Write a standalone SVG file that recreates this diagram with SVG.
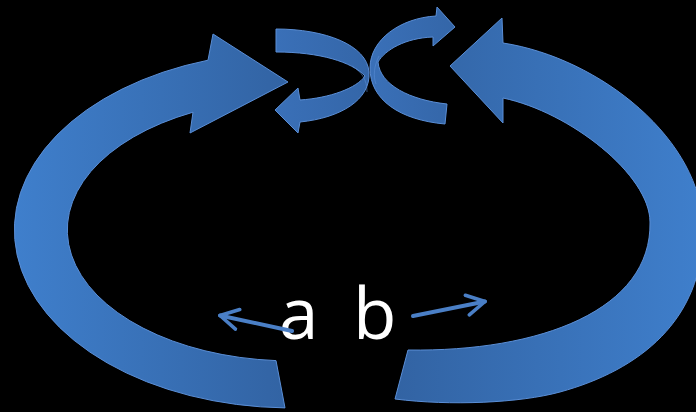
<svg xmlns="http://www.w3.org/2000/svg" width="696" height="412" viewBox="0 0 696 412">
  <defs>
    <linearGradient id="gL" x1="0" y1="0" x2="1" y2="0">
      <stop offset="0" stop-color="#3f7fcc"/>
      <stop offset="1" stop-color="#3263a3"/>
    </linearGradient>
    <linearGradient id="gR" x1="0" y1="0" x2="1" y2="0">
      <stop offset="0" stop-color="#3263a3"/>
      <stop offset="1" stop-color="#3f7fcc"/>
    </linearGradient>
    <linearGradient id="gC" x1="0" y1="0" x2="1" y2="0">
      <stop offset="0" stop-color="#3a70b8"/>
      <stop offset="1" stop-color="#3466a8"/>
    </linearGradient>
    <marker id="ah" viewBox="0 0 12 12" refX="10" refY="6" markerWidth="6" markerHeight="6" markerUnits="strokeWidth" orient="auto">
      <path d="M1,1 L10,6 L1,11" fill="none" stroke="#4a7fc6" stroke-width="1.8" stroke-linecap="round" stroke-linejoin="round"/>
    </marker>
    <style>
      .big { stroke: #5a8ed6; stroke-width: 1; stroke-linejoin: miter; }
      .swap { fill: url(#gC); stroke: #5a8ed6; stroke-width: 1; }
      .fold { fill: none; stroke: #5a8ed6; stroke-width: 0.8; opacity: 0.7; }
      .lbl { font-family: "Open Sans", "Noto Sans", sans-serif; font-size: 71px; fill: #ffffff; }
      .con { fill: none; stroke: #4a7fc6; stroke-width: 4; stroke-linecap: round; }
    </style>
  </defs>
  <rect x="0" y="0" width="696" height="412" fill="#000000"/>

  <g id="arrow-left">
    <path class="big" fill="url(#gL)" d="M 285,407.9 A 277 178 0 0 1 208,60.2 L 213,34 L 288,82 L 190,133 L 193,112.2 A 224 131 0 0 0 276,360.6 Z"/>
  </g>

  <g id="arrow-right">
    <path class="big" fill="url(#gR)" d="M 503,43 C 600,58 703,140 703,230 C 703,320 640,370 560,392 C 520,403 450,406 395,399 L 408,350 C 540,352 652,310 650,222 C 650,175 570,112 503,98 L 503,123 L 450,66 L 502,18 Z"/>
  </g>

  <g id="swap-left">
    <path class="swap" d="M 276,29 C 325,29 367,45 369,72 C 371,100 340,118 300,122 L 298,133 L 275,110 L 298,88 L 300,100 C 330,98 357,88 365,76 C 352,62 320,52 276,52 Z"/>
    <path class="fold" d="M 352,66 C 362,72 367,80 367,92"/>
  </g>

  <g id="swap-right">
    <path class="swap" d="M 436,16 L 437,7 L 455,27 L 433,46 L 433,37 C 405,38 385,50 378,62 C 380,85 410,100 447,104 L 445,124 C 400,120 370,100 370,68 C 370,40 400,18 436,16 Z"/>
    <path class="fold" d="M 379,56 C 374,66 373,76 376,84"/>
  </g>

  <g id="label-a">
    <text class="lbl" x="279" y="339">a</text>
  </g>
  <g id="label-b">
    <text class="lbl" x="353" y="339">b</text>
  </g>

  <g id="connectors">
    <path class="con" d="M 292,331 L 220,315.5" marker-end="url(#ah)"/>
    <path class="con" d="M 413,316 L 485,301.5" marker-end="url(#ah)"/>
  </g>
</svg>
